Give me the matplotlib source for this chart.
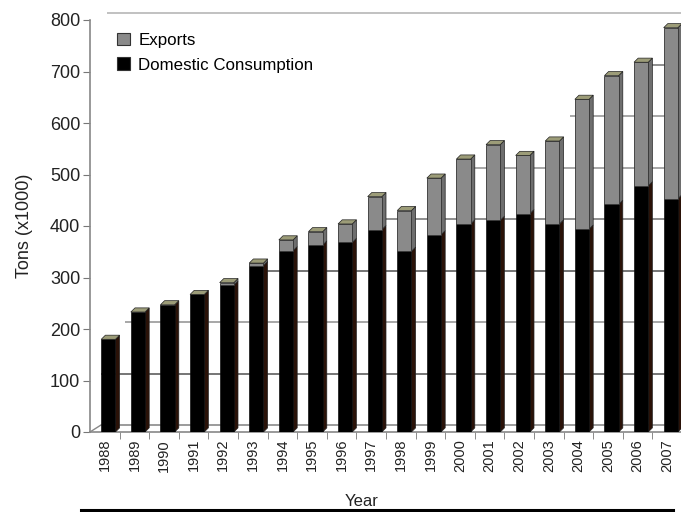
import matplotlib
matplotlib.use("Agg")
import matplotlib.pyplot as plt
import matplotlib.transforms as mtransforms
from matplotlib.patches import Polygon, Rectangle
from matplotlib.lines import Line2D
import numpy as np

years = [str(y) for y in range(1988, 2008)]
domestic = [180, 233, 247, 267, 285, 323, 352, 363, 368, 393, 351, 383, 404, 411, 424, 404, 394, 442, 478, 453]
totals = [180, 233, 247, 267, 290, 328, 373, 389, 404, 457, 430, 493, 530, 558, 537, 565, 646, 692, 718, 785]
exports = [t - d for t, d in zip(totals, domestic)]
y_ticks = [0, 100, 200, 300, 400, 500, 600, 700, 800]
# where each back-wall gridline becomes visible (category units), as in the source image
grid_start = [-0.5, -0.5, 0.31, 5.04, 8.86, 11.97, 15.34, 17.95, -0.3]
grid_colors = ['#808080', '#505050', '#909090', '#505050', '#707070', '#909090', '#909090', '#707070', '#b0b0b0']

plt.rcParams['font.family'] = ['Liberation Sans', 'DejaVu Sans']

fig = plt.figure(figsize=(6.81, 5.12), dpi=100)
ax = fig.add_axes([90 / 681, 80 / 512, 592 / 681, 412 / 512])

x = np.arange(len(years))
bw = 0.48
xoff = 0.12
dep_x = 0.14
dep_y = 8

b1 = ax.bar(x + xoff, domestic, width=bw, color='black', edgecolor='#111111', linewidth=0.5, zorder=3)
b2 = ax.bar(x + xoff, exports, width=bw, bottom=domestic, color='#8a8a8a', edgecolor='#333333', linewidth=0.6, zorder=3)

# pseudo-3D side faces derived from the bar rectangles
def add_depth(bars, side_color):
    for r in bars:
        h = r.get_height()
        if h <= 0:
            continue
        x0, y0, w = r.get_x(), r.get_y(), r.get_width()
        x1, y1 = x0 + w, y0 + h
        side = Polygon([(x1, y0), (x1 + dep_x, y0 + dep_y), (x1 + dep_x, y1 + dep_y), (x1, y1)],
                       closed=True, facecolor=side_color, edgecolor='#222222', linewidth=0.5, zorder=2.9)
        ax.add_patch(side)

add_depth(b1, '#2a1208')
add_depth(b2, '#6e6e6e')
for i in range(len(years)):
    r = b2[i] if exports[i] > 0 else b1[i]
    x0, w = r.get_x(), r.get_width()
    y1 = totals[i]
    top = Polygon([(x0, y1), (x0 + dep_x, y1 + dep_y), (x0 + w + dep_x, y1 + dep_y), (x0 + w, y1)],
                  closed=True, facecolor='#9c9c78', edgecolor='#222222', linewidth=0.5, zorder=3.2)
    ax.add_patch(top)

ax.set_xlim(-0.5, 19.5)
ax.set_ylim(0, 800)
ax.set_yticks(y_ticks)
ax.set_yticklabels([str(v) for v in y_ticks])
ax.set_xticks(x)
ax.set_xticklabels(years, rotation=90, fontsize=10.5, color='#222222')
ax.set_xticks(x + 0.5, minor=True)
ax.tick_params(axis='x', which='major', length=0, pad=5)
ax.tick_params(axis='x', which='minor', length=5, color='#777777', direction='out')
ax.tick_params(axis='y', length=5, color='#777777', labelsize=13, labelcolor='#222222', pad=2)

for s in ['top', 'right']:
    ax.spines[s].set_visible(False)
for s in ['left', 'bottom']:
    ax.spines[s].set_color('#888888')
    ax.spines[s].set_linewidth(1.2)

# back-wall gridlines, shifted up/right
offset = mtransforms.ScaledTranslation(11 / 100, 7 / 100, fig.dpi_scale_trans)
for yv, xs, c in zip(y_ticks, grid_start, grid_colors):
    ax.hlines(yv, xs, 20.5, colors=c, linewidth=1.1, zorder=1,
              transform=ax.transData + offset, clip_on=False)

# floor corner diagonal (from axes origin to the shifted back-wall origin)
p0 = ax.transAxes.transform((0, 0))
seg = Line2D([0, 11], [0, 7], color='#888888', linewidth=1.0, clip_on=False,
             transform=mtransforms.Affine2D().translate(*p0))
ax.add_artist(seg)

ax.set_ylabel('Tons (x1000)', fontsize=13, color='#222222', labelpad=12)
fig.text(362 / 681, 1 - 501 / 512, 'Year', ha='center', va='center', fontsize=12, color='#222222')

handles = [Rectangle((0, 0), 1, 1, facecolor='#8a8a8a', edgecolor='#333333', linewidth=0.8),
           Rectangle((0, 0), 1, 1, facecolor='black', edgecolor='#333333', linewidth=0.8)]
fig.legend(handles, ['Exports', 'Domestic Consumption'], loc='upper left',
           bbox_to_anchor=(117 / 681, 1 - 33 / 512), frameon=False, fontsize=12.2,
           handlelength=0.75, handleheight=0.75, handletextpad=0.5, labelspacing=0.55,
           borderpad=0, borderaxespad=0)

fig.add_artist(Rectangle((81 / 681, -0.05), (673 - 81) / 681, 0.05 + (512 - 510) / 512,
                         transform=fig.transFigure, fill=False, edgecolor='black', linewidth=2.2,
                         clip_on=False))

fig.savefig('out.png', dpi=100)
